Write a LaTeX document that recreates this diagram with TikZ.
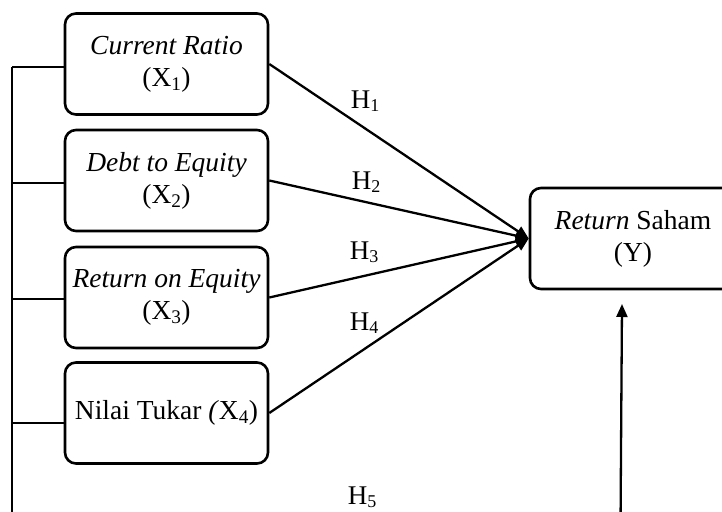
\documentclass[tikz,border=0pt]{standalone}
\usepackage{fontspec}
\setmainfont{Liberation Serif}
\usetikzlibrary{arrows.meta}
\tikzset{
  varbox/.style={draw, line width=2.6pt, rounded corners=11pt, minimum width=203pt, minimum height=101pt, inner sep=0pt, align=center, font=\fontsize{27.5}{32}\selectfont},
  conn/.style={line width=2.3pt, -{Triangle[length=13pt,width=11pt]}},
  thin/.style={line width=1.5pt},
  hlab/.style={font=\fontsize{27}{30}\selectfont, inner sep=0pt}
}
\newcommand{\hsub}[1]{\raisebox{-2.5pt}{\fontsize{18}{18}\selectfont #1}}
\begin{document}
\begin{tikzpicture}[x=1pt,y=-1pt]
\useasboundingbox (0,0) rectangle (722,511);
\clip (0,0) rectangle (722,511);
\node[varbox] (b1) at (166.5,64) {\textit{Current Ratio}\\(X\textsubscript{1})};
\node[varbox] (b2) at (166.5,180.5) {\textit{Debt to Equity}\\(X\textsubscript{2})};
\node[varbox] (b3) at (166.5,297.5) {\textit{Return on Equity}\\(X\textsubscript{3})};
\node[varbox] (b4) at (166.5,413) {Nilai Tukar \textit{(}X\textsubscript{4})};
\node[varbox, minimum width=206pt] (y) at (633,238.5) {\textit{Return} Saham\\(Y)};
\draw[conn] (b1.east) -- (y.west);
\draw[conn] (b2.east) -- (y.west);
\draw[conn] (b3.east) -- (y.west);
\draw[conn] (b4.east) -- (y.west);
\node[hlab] (h1) at (365,101) {H\hsub{1}};
\node[hlab] (h2) at (366,182) {H\hsub{2}};
\node[hlab] (h3) at (364,252) {H\hsub{3}};
\node[hlab] (h4) at (364,323) {H\hsub{4}};
\node[hlab] (h5) at (362,497) {H\hsub{5}};
\coordinate (lt) at (12,67);
\coordinate (lb) at (12,530);
\draw[thin] (lt) -- (lb);
\draw[thin] (lt) -- ([yshift=-3pt]b1.west);
\draw[thin] (lt |- 0,183) -- ([yshift=-2.5pt]b2.west);
\draw[thin] (lt |- 0,299) -- ([yshift=-1.5pt]b3.west);
\draw[thin] (lt |- 0,423) -- ([yshift=-10pt]b4.west);
\coordinate (rb) at (620.5,530);
\coordinate (ytip) at (622,304);
\draw[conn] (rb) .. controls (621,450) .. (ytip);
\end{tikzpicture}
\end{document}
